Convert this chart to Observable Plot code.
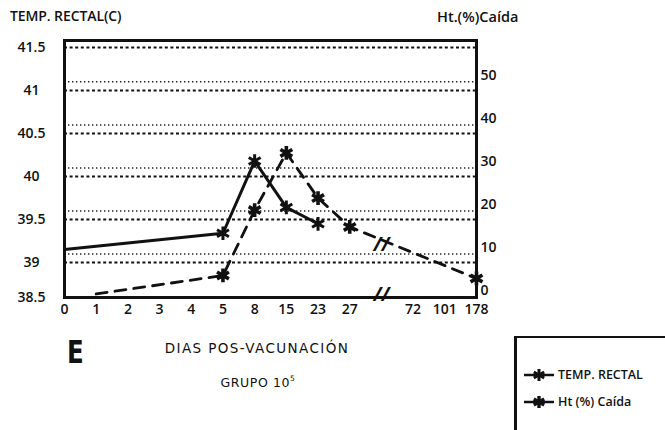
<!DOCTYPE html>
<html><head><meta charset="utf-8">
<script src="https://cdn.jsdelivr.net/npm/d3@7"></script>
<script src="https://cdn.jsdelivr.net/npm/@observablehq/plot@0.6"></script>
<style>
body{margin:0;background:#fff;font-family:"Open Sans",sans-serif;color:#111;}
#wrap{position:relative;width:665px;height:430px;overflow:hidden;}
#chart{position:absolute;left:0;top:0;}
.t{position:absolute;white-space:nowrap;line-height:1;}
.c{transform:translateX(-50%);}
#legend{position:absolute;left:514px;top:336px;width:170px;height:110px;border-left:3px solid #111;border-top:2px solid #111;}
.li{position:absolute;left:6px;display:flex;align-items:center;font-size:12.5px;font-weight:600;}
.li svg{margin-right:3px;}
</style></head><body>
<div id="wrap">
<div id="chart"></div>
<div class="t" style="left:10px;top:9px;font-size:14px;font-weight:600;letter-spacing:-0.1px;">TEMP. RECTAL(C)</div>
<div class="t" style="left:437px;top:10px;font-size:14.5px;font-weight:600;">Ht.(%)Caída</div>
<div class="t" style="left:67px;top:336px;font-size:32px;font-weight:bold;font-family:'DejaVu Sans Condensed','DejaVu Sans',sans-serif;transform:scaleX(0.85);transform-origin:left top;">E</div>
<div class="t c" style="left:257px;top:342px;font-size:13.5px;letter-spacing:1.4px;font-family:'DejaVu Sans',sans-serif;">DIAS POS-VACUNACIÓN</div>
<div class="t c" style="left:258px;top:375px;font-size:12.5px;letter-spacing:0.6px;font-family:'DejaVu Sans',sans-serif;">GRUPO 10<sup style="font-size:7.5px;vertical-align:6px;">5</sup></div>
<div id="legend">
  <div class="li" style="top:28px;"><svg width="32" height="14"><line x1="1" y1="7" x2="31" y2="7" stroke="#111" stroke-width="2.5"/><g stroke="#111" stroke-width="3"><line x1="16" y1="1" x2="16" y2="13"/><line x1="10.8" y1="4" x2="21.2" y2="10"/><line x1="10.8" y1="10" x2="21.2" y2="4"/></g></svg>TEMP. RECTAL</div>
  <div class="li" style="top:55px;"><svg width="32" height="14"><line x1="1" y1="7" x2="31" y2="7" stroke="#111" stroke-width="2.5"/><g stroke="#111" stroke-width="3.4"><line x1="16" y1="1" x2="16" y2="13"/><line x1="10.8" y1="4" x2="21.2" y2="10"/><line x1="10.8" y1="10" x2="21.2" y2="4"/></g></svg>Ht (%) Caída</div>
</div>
</div>
<script>
// x axis categories (days post vaccination) and their slot on the broken axis
const xLabels = ["0","1","2","3","4","5","8","15","23","27","72","101","178"];
const xSlots  = [0,1,2,3,4,5,6,7,8,9,11,12,13];
const axisBreakSlot = 10;

// Rectal temperature (°C)
const tempDays   = ["0","5","8","15","23"];
const tempValues = [39.15,39.34,40.18,39.64,39.45];
const tempMarked = [false,true,true,true,true];

// Hematocrit drop (%)
const htDays   = ["1","5","8","15","23","27","178"];
const htValues = [-0.8,3.5,18.7,32,21.5,14.8,2.8];
const htMarked = [false,true,true,true,true,true,true];
const htBreakValue = 10.5;

// axes and gridlines
const leftTicks  = [38.5,39,39.5,40,40.5,41,41.5];
const rightTicks = [0,10,20,30,40,50];
const heavyGrid  = [39,39.5,40,40.5,41,41.5];
const lightGrid  = [39.1,39.6,40.1,40.6,41.1];
const tempDomain = [38.593,41.581];

// right axis (Ht %) expressed on the temperature scale
const htZero = 38.674, htStep = 0.05;
const htToTemp = h => htZero + htStep * h;
const tempToHt = t => Math.round((t - htZero) / htStep);
const slot = d => xSlots[xLabels.indexOf(d)];

const temp = tempDays.map((d,i) => ({x: slot(d), y: tempValues[i], m: tempMarked[i]}));
const ht = htDays.map((d,i) => ({x: slot(d), y: htToTemp(htValues[i]), m: htMarked[i]}));

const font = {fontFamily: "Open Sans", fontSize: 14, fontWeight: 600};

const chart = Plot.plot({
  width: 665, height: 330,
  marginLeft: 64, marginRight: 189, marginTop: 40, marginBottom: 33,
  style: {fontFamily: "Open Sans", fontSize: "14px", color: "#111", background: "transparent"},
  x: {domain: [0, 13]},
  y: {domain: tempDomain, clamp: true},
  marks: [
    Plot.ruleY(lightGrid, {stroke: "#222", strokeWidth: 1.5, strokeDasharray: "1.4,2.6"}),
    Plot.ruleY(heavyGrid, {stroke: "#111", strokeWidth: 2, strokeDasharray: "3,2.6"}),
    Plot.line(temp, {x: "x", y: "y", stroke: "#111", strokeWidth: 3}),
    Plot.line(ht, {x: "x", y: "y", stroke: "#111", strokeWidth: 2.8, strokeDasharray: "11,8"}),
    Plot.dot(temp.filter(d => d.m), {x: "x", y: "y", symbol: "asterisk", r: 6.5, stroke: "#111", strokeWidth: 3}),
    Plot.dot(ht.filter(d => d.m), {x: "x", y: "y", symbol: "asterisk", r: 6.5, stroke: "#111", strokeWidth: 3.6}),
    Plot.text([axisBreakSlot], {x: d => d, y: () => htToTemp(htBreakValue), text: () => "//", fontSize: 19, fontStyle: "italic", fontWeight: "bold", fill: "#111"}),
    Plot.text([axisBreakSlot], {x: d => d, frameAnchor: "bottom", dy: 3, text: () => "//", fontSize: 19, fontStyle: "italic", fontWeight: "bold", fill: "#111"}),
    Plot.frame({stroke: "#111", strokeWidth: 3}),
    Plot.axisX(xSlots, {tickSize: 0, tickPadding: 7, label: null, tickFormat: s => xLabels[xSlots.indexOf(s)], ...font}),
    Plot.axisY(leftTicks, {anchor: "left", tickSize: 0, tickPadding: 33, textAnchor: "middle", label: null, tickFormat: d => String(d), ...font}),
    Plot.axisY(rightTicks.map(htToTemp), {anchor: "right", tickSize: 0, tickPadding: 4, label: null, tickFormat: tempToHt, ...font})
  ]
});
document.getElementById("chart").appendChild(chart);
</script>
</body></html>
